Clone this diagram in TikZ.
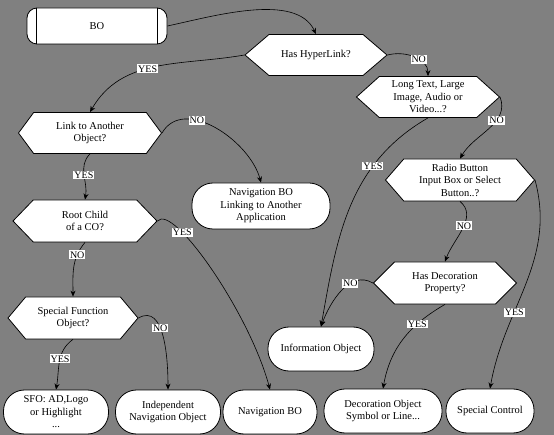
\documentclass[tikz,border=0pt]{standalone}
\usepackage{fontspec}
\setmainfont{Liberation Serif}
\usepackage{xcolor}
\usepackage{tikz}
\usetikzlibrary{arrows.meta,calc,shapes.symbols,positioning}
\definecolor{bggray}{RGB}{128,128,128}

\begin{document}
\begin{tikzpicture}[x=1pt, y=1pt, >={Stealth[length=6pt,width=5pt]},
    decision/.style={draw, fill=white, line width=0.8pt, shape=signal, signal to=east and west, align=center, minimum height=41pt, inner sep=1pt, font=\fontsize{10.5}{12.5}\selectfont},
    terminal/.style={draw, fill=white, line width=0.8pt, rectangle, rounded corners=21pt, align=center, minimum height=44pt, inner sep=2pt, font=\fontsize{10.5}{12.5}\selectfont},
    flow/.style={->, line width=0.6pt},
    answer/.style={fill=white, inner sep=1pt, font=\fontsize{10}{12}\selectfont}]
        % Background
        \useasboundingbox (0,0) rectangle (554,-435);
        \fill[bggray] (0,0) rectangle (554,-435);

        % Start Object
        \node[terminal, rounded corners=10pt, minimum width=140pt, minimum height=36pt] (bo) at (97,-26) {BO};
        \draw[line width=0.8pt] ($(bo.north west)+(10,0)$) -- ($(bo.south west)+(10,0)$);
        \draw[line width=0.8pt] ($(bo.north east)+(-10,0)$) -- ($(bo.south east)+(-10,0)$);

        % Decisions
        \node[decision, minimum width=142pt, signal pointer angle=81] (hl) at (316,-55) {Has HyperLink?};
        \node[decision, minimum width=143pt, signal pointer angle=84] (lt) at (428,-97) {Long Text, Large\\Image, Audio or\\Video...?};
        \node[decision, minimum width=143pt, signal pointer angle=107] (lk) at (90,-133) {Link to Another\\Object?};
        \node[decision, minimum width=144pt, minimum height=42pt, signal pointer angle=92] (rc) at (85,-221) {Root Child\\of a CO?};
        \node[decision, minimum width=130pt, minimum height=42pt, signal pointer angle=100] (sf) at (73,-318) {Special Function\\Object?};
        \node[decision, minimum width=149pt, minimum height=42pt, signal pointer angle=98] (rb) at (460,-180) {Radio Button\\Input Box or Select\\Button..?};
        \node[decision, minimum width=143pt, minimum height=42pt, signal pointer angle=90] (hd) at (445,-283) {Has Decoration\\Property?};

        % Resulting Objects
        \node[terminal, minimum width=138pt, minimum height=46pt] (nbl) at (261,-206) {Navigation BO\\Linking to Another\\Application};
        \node[terminal, minimum width=106pt] (info) at (321,-349) {Information Object};
        \node[terminal, minimum width=105pt] (sfo) at (56,-412) {SFO: AD,Logo\\or Highlight\\...};
        \node[terminal, minimum width=105pt] (ind) at (168,-412) {Independent\\Navigation Object};
        \node[terminal, minimum width=94pt] (nbo) at (270,-412) {Navigation BO};
        \node[terminal, minimum width=118pt] (dec) at (383,-411) {Decoration Object\\Symbol or Line...};
        \node[terminal, minimum width=88pt] (sc) at (490,-411) {Special Control};

        % Flow
        \draw[flow] (bo.east) to[out=12, in=115, looseness=0.8] (hl.north);
        \draw[flow] (hl.west) to[out=190, in=60] node[answer, pos=0.55] {YES} (lk.north);
        \draw[flow] (hl.east) to[out=15, in=90] node[answer, pos=0.6] {NO} (lt.north);
        \draw[flow] (lt.east) to[out=-70, in=60] node[answer, pos=0.35] {NO} (rb.north);
        \draw[flow] (lt.south) to[out=210, in=80] node[answer, pos=0.3] {YES} (info.north);
        \draw[flow] (lk.east) to[out=60, in=105] node[answer, pos=0.35] {NO} (nbl.north);
        \draw[flow] (lk.south) to[out=-135, in=80] node[answer, pos=0.5] {YES} (rc.north);
        \draw[flow] (rc.east) to[out=50, in=105, out looseness=0.3] node[answer, pos=0.28] {YES} (nbo.north);
        \draw[flow] (rc.south) to[out=-130, in=90] node[answer, pos=0.25] {NO} (sf.north);
        \draw[flow] (sf.east) to[out=30, in=90] node[answer, pos=0.4] {NO} (ind.north);
        \draw[flow] (sf.south) to[out=-145, in=80] node[answer, pos=0.45] {YES} (sfo.north);
        \draw[flow] (rb.south) to[out=-40, in=70] node[answer, pos=0.45] {NO} (hd.north);
        \draw[flow] (rb.east) to[out=-75, in=80] node[answer, pos=0.65] {YES} (sc.north);
        \draw[flow] (hd.west) to[out=150, in=70] node[answer, pos=0.35] {NO} (info.north);
        \draw[flow] (hd.south) to[out=-150, in=80] node[answer, pos=0.3] {YES} (dec.north);
    \end{tikzpicture}
\end{document}
